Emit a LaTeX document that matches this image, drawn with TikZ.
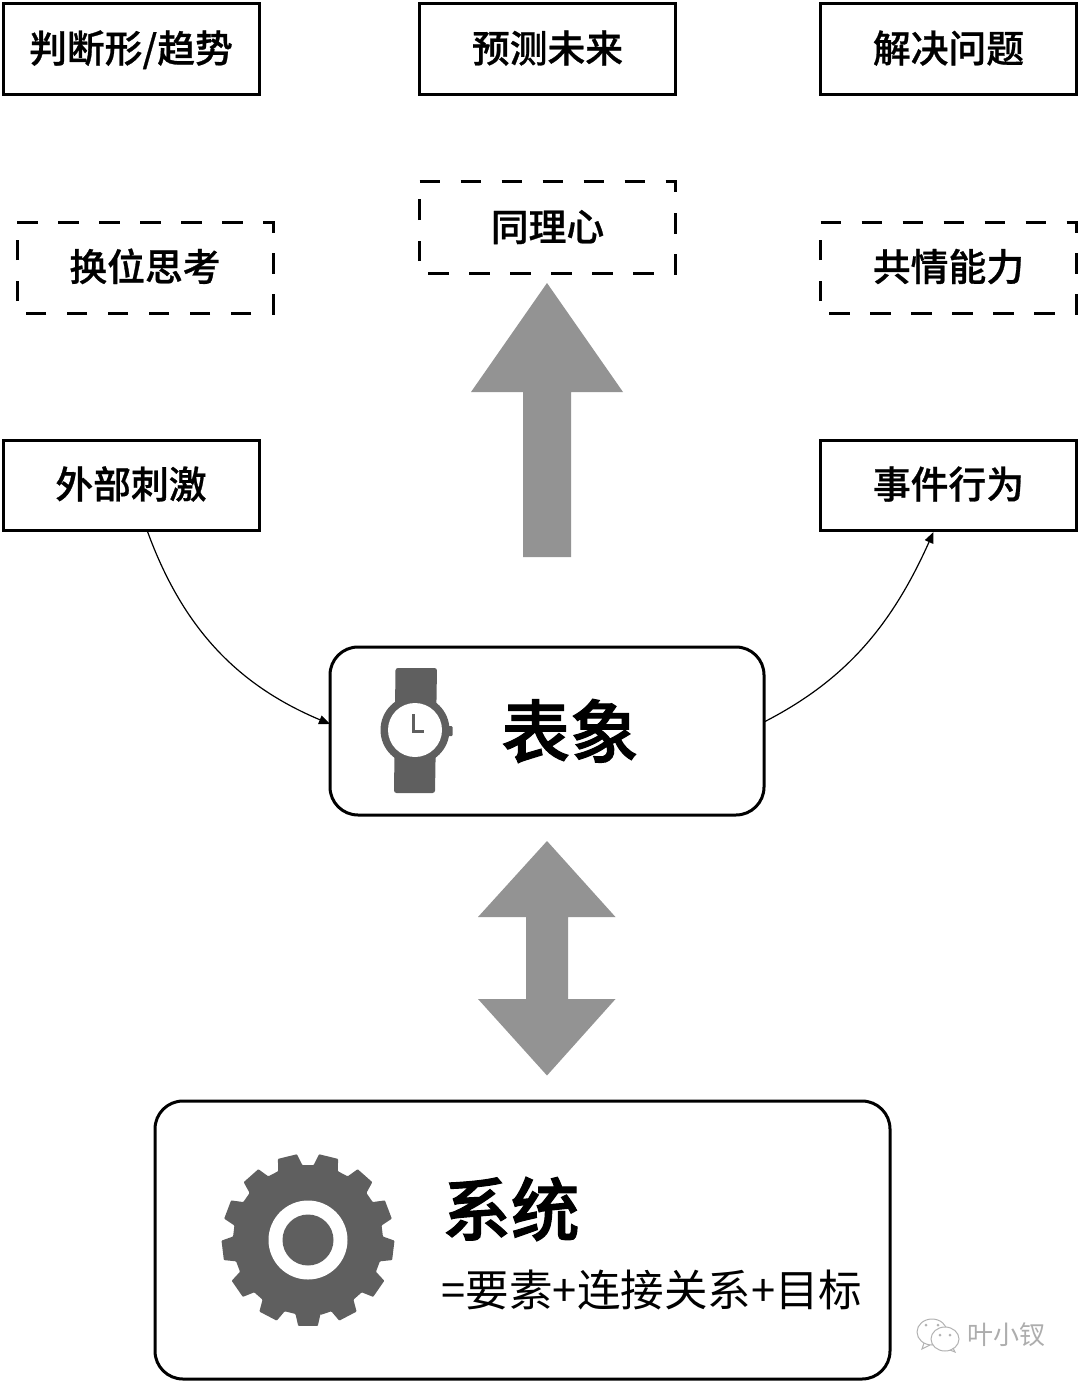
\documentclass[tikz,border=0pt]{standalone}
\usepackage{fontspec}
\setmainfont{Noto Sans CJK SC}
\newfontfamily\medfont[FakeBold=0.7]{Noto Sans CJK SC Medium}
\newfontfamily\bigfont[FakeBold=1.6]{Noto Sans CJK SC Medium}
\usetikzlibrary{arrows.meta}
\definecolor{icongrey}{HTML}{5F5F5F}
\definecolor{arrowgrey}{HTML}{939393}
\tikzset{
  solidbox/.style={draw=black,line width=3pt,rectangle,minimum width=256pt,minimum height=91pt,outer sep=0pt,inner sep=0pt,text height=32.4pt,text depth=5.6pt,font=\fontsize{37.8}{38}\selectfont\medfont},
  dashbox/.style={rectangle,minimum width=256pt,minimum height=91pt,outer sep=0pt,inner sep=0pt,text height=32.4pt,text depth=5.6pt,font=\fontsize{37.8}{38}\selectfont\medfont},
  dashline/.style={draw=black,line width=3pt,dash pattern=on 20.5pt off 20.5pt},
  roundbox/.style={draw=black,line width=3pt,rectangle,rounded corners=28pt,outer sep=0pt,inner sep=0pt},
  bigtext/.style={inner sep=0pt,font=\fontsize{68.5}{69}\selectfont\bigfont},
  link/.style={draw=black,line width=1.2pt,-{Stealth[length=11pt,width=9pt,inset=0pt]}},
  blockarrow/.style={fill=arrowgrey,draw=none},
  icon/.style={fill=icongrey,draw=none}
}
\begin{document}
\begin{tikzpicture}[x=1pt,y=-1pt]
\useasboundingbox (0,0) rectangle (1080,1383);
% top boxes
\node[solidbox] (judge) at (131,49) {判断形/趋势};
\node[solidbox] (predict) at (547.5,49) {预测未来};
\node[solidbox] (solve) at (948.5,49) {解决问题};
% dashed boxes
\node[dashbox] (swap) at (145,267.5) {换位思考};
\node[dashbox] (empathy) at (547.5,227.5) {同理心};
\node[dashbox] (share) at (948.5,267.5) {共情能力};
\foreach \n in {swap,empathy,share}
  \draw[dashline] (\n.north west) -- (\n.north east) -- (\n.south east) -- (\n.south west) -- cycle;
% mid boxes
\node[solidbox,minimum height=90pt] (stim) at (131,485) {外部刺激};
\node[solidbox,minimum height=90pt] (event) at (948.5,485) {事件行为};
% appearance box
\node[roundbox,minimum width=434pt,minimum height=168pt] (appear) at (547,731) {};
\node[bigtext] (appeartxt) at (570,731) {表象};
% system box
\node[roundbox,minimum width=735pt,minimum height=278pt] (system) at (522.5,1240) {};
\node[bigtext] (systxt) at (511,1209) {系统};
\node[inner sep=0pt,font=\fontsize{43.5}{43.5}\selectfont] (syssub) at (652,1290) {=要素+连接关系+目标};
% curved links
\draw[link] ([xshift=16.5pt,yshift=-1.5pt]stim.south) .. controls (182.4,627) and (236.4,684.7) .. ([yshift=7pt]appear.west);
\draw[link] ([yshift=9pt]appear.east) .. controls (843.5,681.2) and (890.5,628.2) .. ([xshift=-15pt,yshift=-2pt]event.south);
% block arrows
\fill[blockarrow] (547,283) -- (623,392) -- (571,392) -- (571,557) -- (523,557) -- (523,392) -- (471,392) -- cycle;
\fill[blockarrow] (547,841) -- (615.5,917) -- (568,917) -- (568,999) -- (615.5,999) -- (547,1075.5) -- (478,999) -- (526,999) -- (526,917) -- (478,917) -- cycle;
% watch
\fill[icon,rounded corners=2.5pt] (395.5,668) -- (437,668) -- (435,793) -- (394,793) -- cycle;
\fill[icon,rounded corners=1pt] (447,726) -- (452.5,726) -- (452.5,736) -- (447,736) -- cycle;
\fill[icon] (415,730) circle (34.5);
\fill[white] (415,730) circle (27);
\draw[icongrey,line width=2.6pt] (413.5,714) -- (413.5,731.5) -- (424,731.5);
% gear
\fill[icon,rounded corners=0.8pt] ({308+76*cos(90-13.85+4.5)},{1240+76*sin(90-13.85+4.5)})
 \foreach \k in {0,...,12}{
  -- ({308+75*cos(90+\k*360/13-9.6)},{1240+75*sin(90+\k*360/13-9.6)})
  -- ({308+86.5*cos(90+\k*360/13-6.5)},{1240+86.5*sin(90+\k*360/13-6.5)})
  -- ({308+86.5*cos(90+\k*360/13+6.5)},{1240+86.5*sin(90+\k*360/13+6.5)})
  -- ({308+75*cos(90+\k*360/13+9.6)},{1240+75*sin(90+\k*360/13+9.6)})
 } -- cycle;
\fill[white] (308,1240) circle (39.5);
\fill[icon] (308,1240) circle (25.5);
% watermark
\node[inner sep=0pt,text=black!32,font=\fontsize{26}{26}\selectfont] (mark) at (1006,1335) {叶小钗};
\draw[black!30,line width=1pt,fill=white] (932,1332) ellipse (15 and 13);
\draw[black!30,line width=1pt] (924,1343) -- (922,1349) -- (930,1345);
\draw[black!30,line width=1pt,fill=white] (945,1339) ellipse (14 and 12);
\draw[black!30,line width=1pt] (950,1350) -- (955,1352) -- (953,1348);
\fill[black!30] (926,1325) circle (1.5) (938,1325) circle (1.5) (940,1335) circle (1.5) (950,1335) circle (1.5);
\end{tikzpicture}
\end{document}
